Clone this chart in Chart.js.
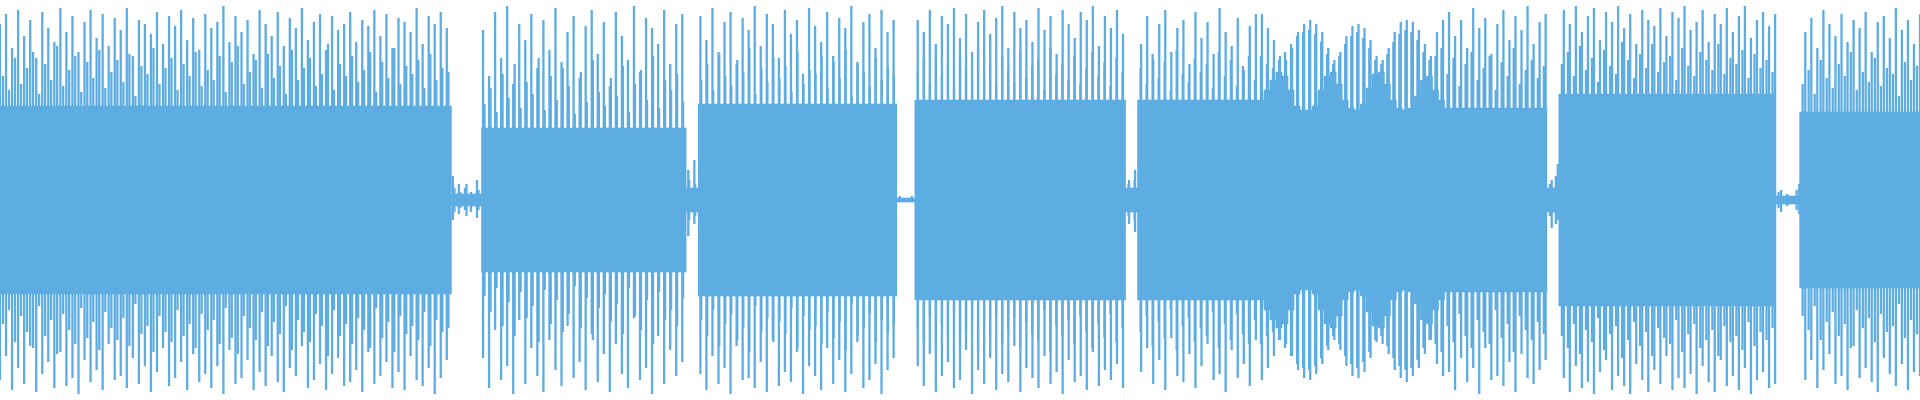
<!DOCTYPE html>
<html><head><meta charset="utf-8">
<script src="https://cdn.jsdelivr.net/npm/chart.js@4"></script>
<style>html,body{margin:0;padding:0;background:#fff}#w{width:1920px;height:400px}</style>
</head><body><div id="w"><canvas id="c"></canvas></div>
<script>
// Per-segment peak heights (percent of full scale), upper and lower
const upSegs = [
 [88,93,76,95,82,90,71,94,86,79,96,84,92,74,89,95,81,93,77,91,85,96,72,90,88,83,94,78,92,87,95,80,91,75,93,86,89,97,79,92,84,90,73,95,88,82,94,77,91,86,96,80,89,93,75,92,85,88,94,79,90,87,95,82,93,76,91,89,84,96,78,92,88,94,86],
 [12,8,6,4,10],
 [85,62,94,71,97,58,88,80,93,66,90,75,96,69,84,92,61,87,95,73,89,57,94,82,70,97,64,91,86,78,95,68,88,93],
 [15,20],
 [92,80,96,74,89,94,68,91,85,97,77,93,88,71,95,83,90,63,96,87,79,94,72,91,86,97,69,89,93,76,95,84,90],
 [2,1,2],
 [90,84,95,78,92,88,96,81,93,74,89,95,83,91,97,76,94,86,90,79,96,85,92,73,95,88,81,94,90,97,77,92,86,95,83],
 [10,15],
 [78,92,70,88,95,74,86,90,68,94,81,89,73,96,84,77,91,65,87,93],
 [93,86,80,72,70,76,84,88,90,88,84,76,70,74,82,87,88,86,80,72,70,76,84,89,90,89,85,78,72,84,90],
 [94,82,90,76,96,86,91,73,88,95,80,92,85,97,78,89,93],
 [10,18],
 [95,88,97,84,92,96,80,94,89,97,86,93,78,95,90,87,96,82,94,91,97,85,89,95,79,93,88,96,84,92,97,81,90,94,87,93],
 [5,3,2,8],
 [84,91,76,95,88,82,93,79,90,86,94,74,89,92,81,96,85,90,78,93]
];
const loSegs = [
 [90,78,95,84,92,73,96,87,81,94,76,93,89,97,80,91,85,95,72,90,88,94,79,92,83,96,86,74,93,89,81,95,77,91,87,94,83,97,75,92,89,80,95,86,93,78,91,96,84,88,73,94,90,82,95,87,79,93,91,85,96,76,92,88,81,94,86,95,78,90,93,84,97,89,80],
 [10,7,5,6,9],
 [79,94,65,90,83,97,60,92,74,88,96,70,85,93,63,89,81,95,67,91,77,96,72,87,94,59,90,84,97,68,92,75,88,81],
 [18,12],
 [87,95,78,92,84,97,73,90,89,94,81,96,70,93,86,91,76,97,83,88,95,74,92,80,96,87,71,94,90,82,97,85,79],
 [1,1,1],
 [83,93,77,96,88,81,94,90,75,97,85,92,79,95,87,91,73,96,84,89,94,78,92,86,97,80,91,88,95,76,93,85,90,82,94],
 [12,16],
 [86,74,92,80,95,69,88,91,77,94,83,72,90,87,96,75,89,82,93,70],
 [90,84,78,70,72,78,85,89,90,87,82,75,70,75,83,88,89,86,79,71,72,77,85,89,91,88,84,77,70,82,88],
 [86,95,79,91,84,97,74,90,88,93,81,96,77,89,92,85,80],
 [14,10],
 [89,96,83,94,91,97,86,80,95,88,93,97,82,90,96,85,92,78,95,89,94,87,97,83,91,96,80,93,88,95,84,97,90,86,94,92],
 [6,3,2,7],
 [90,80,94,85,77,92,88,95,73,89,84,91,96,79,87,93,82,95,86,88]
];
// In-between shorter lines (symmetric), one per column
const midSegs = [
 [62,55,71,58,66,74,53,68,60,77,57,65,72,54,69,61,75,56,64,70,59,73,52,67,63,76,58,66,71,55,68,62,74,57,65,60,72,54,69,77,58,64,70,56,73,61,67,53,75,60,66,71,57,63,78,55,68,62,72,59,65,74,54,69,61,76,58,67,63,70,56,73,60,66,64],
 [6,4,8,3,5],
 [48,56,44,63,51,68,46,59,53,71,45,62,50,66,57,43,64,49,70,54,47,61,52,67,44,58,65,50,72,46,60,55,63,49],
 [10,8],
 [60,68,55,73,62,57,70,64,76,53,66,59,71,61,67,54,74,58,65,63,72,56,69,61,75,52,68,64,57,71,60,66,62],
 [1,1,1],
 [64,71,58,75,62,68,56,73,66,60,77,63,69,57,72,65,59,74,61,67,70,55,76,63,68,60,72,58,66,74,62,69,57,71,64],
 [8,10],
 [66,58,73,61,69,55,75,63,59,71,64,68,56,74,62,70,57,67,72,60],
 [72,68,66,70,74,78,82,84,85,83,79,73,68,72,78,82,84,81,76,70,68,73,79,83,85,84,80,74,70,72,76],
 [63,71,57,68,74,60,66,72,55,69,62,76,58,65,70,61,67],
 [8,12],
 [68,74,62,77,65,71,59,75,67,63,79,70,61,73,66,78,64,69,72,60,76,67,62,74,70,65,78,63,71,68,75,61,73,66,70,64],
 [4,2,2,5],
 [58,65,53,70,61,56,68,62,74,55,64,59,71,57,66,63,52,69,60,67]
];
// Dense core band level per segment (beating segment has its own list)
const beatCore = [50,55,60,64,62,55,47,45,45,47,55,62,64,58,50,46,45,48,56,63,64,58,50,46,45,46,52,60,62,55,50];
const coreLevels = [47,3,36,6,48,1,50,6,50,beatCore,46,6,53,2,44];

const up = upSegs.flat(), lo = loSegs.flat(), mid = midSegs.flat();
const core = [];
coreLevels.forEach((c,i)=>{ upSegs[i].forEach((_,j)=>core.push(Array.isArray(c)?c[j]:c)); });
const labels = up.map((_,i)=>i);
const col = '#5dace2';
new Chart(document.getElementById('c'), {
  type:'bar',
  data:{labels, datasets:[
    {data: core.map(v=>[-v,v]), xAxisID:'x2', backgroundColor:col, grouped:false, barPercentage:1, categoryPercentage:1, borderWidth:0},
    {data: up.map((v,i)=>[-lo[i],v]), xAxisID:'x', backgroundColor:col, grouped:false, barPercentage:0.38, categoryPercentage:1, borderWidth:0},
    {data: mid.map(v=>[-v,v]), xAxisID:'x2', backgroundColor:col, grouped:false, barPercentage:0.38, categoryPercentage:1, borderWidth:0}
  ]},
  options:{responsive:true, maintainAspectRatio:false, animation:false,
    layout:{padding:0},
    plugins:{legend:{display:false}, tooltip:{enabled:false}},
    scales:{x:{display:false, offset:false}, x2:{display:false, offset:true}, y:{display:false, min:-100, max:100}}}
});
</script></body></html>
